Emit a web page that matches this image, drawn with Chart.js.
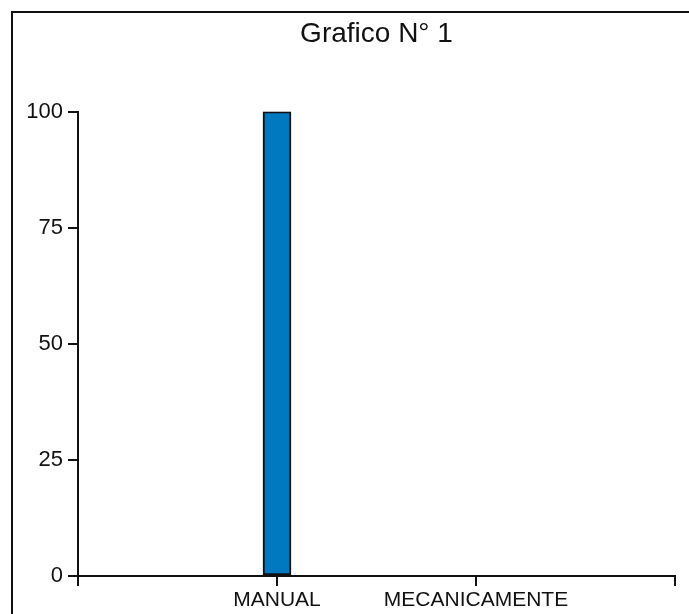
<!DOCTYPE html>
<html>
<head>
<meta charset="utf-8">
<script src="https://cdn.jsdelivr.net/npm/chart.js@4"></script>
<style>
    html, body { margin: 0; padding: 0; background: #fff; }
    #wrap { position: relative; width: 689px; height: 614px; overflow: hidden; }
    #frame {
        position: absolute; left: 11px; top: 11px; width: 700px; height: 700px;
        border-left: 2px solid #111; border-top: 2px solid #111;
    }
    #grafico { position: absolute; left: 0; top: 0; }
</style>
</head>
<body>
<div id="wrap">
    <div id="frame"></div>
    <canvas id="grafico" width="689" height="614"></canvas>
</div>
<script>
// datos del grafico
const categorias = ['MANUAL', 'MECANICAMENTE'];
const valores = [100, 0];
const ticksY = [0, 25, 50, 75, 100];

document.addEventListener('DOMContentLoaded', function () {

    const canvas = document.getElementById('grafico');

    // posiciones vacias a los extremos para que el eje vaya de 0 a 3
    const etiquetas = [''].concat(categorias, ['']);
    const datos = [null].concat(valores, [null]);

    const fuente = "'Liberation Sans', Arial, sans-serif";

    new Chart(canvas, {
        type: 'bar',
        data: {
            labels: etiquetas,
            datasets: [{
                data: datos,
                backgroundColor: '#0079c1',
                borderColor: '#111',
                borderWidth: 2,
                borderSkipped: false,
                barThickness: 28
            }]
        },
        options: {
            responsive: false,
            animation: false,
            layout: {
                padding: { left: 0, right: 14, top: 0, bottom: 0 }
            },
            plugins: {
                legend: { display: false },
                tooltip: { enabled: false },
                title: {
                    display: true,
                    text: 'Grafico N° 1',
                    fullSize: false,
                    color: '#111',
                    font: { family: fuente, size: 28, weight: 'normal' },
                    padding: { top: 17, bottom: 61 }
                }
            },
            scales: {
                x: {
                    offset: false,
                    border: { color: '#111', width: 2 },
                    grid: {
                        offset: false,
                        drawOnChartArea: false,
                        tickLength: 10,
                        color: '#111',
                        lineWidth: 2
                    },
                    ticks: {
                        color: '#111',
                        padding: 2,
                        maxRotation: 0,
                        autoSkip: false,
                        font: { family: fuente, size: 21 }
                    },
                    afterFit: function (scale) { scale.height = 38; }
                },
                y: {
                    min: ticksY[0],
                    max: ticksY[ticksY.length - 1],
                    afterBuildTicks: function (scale) {
                        scale.ticks = ticksY.map(v => ({ value: v }));
                    },
                    border: { color: '#111', width: 2 },
                    grid: {
                        drawOnChartArea: false,
                        tickLength: 10,
                        color: '#111',
                        lineWidth: 2
                    },
                    ticks: {
                        color: '#111',
                        padding: 5,
                        font: { family: fuente, size: 22 }
                    },
                    afterFit: function (scale) { scale.width = 78; }
                }
            }
        }
    });

});
</script>
</body>
</html>
